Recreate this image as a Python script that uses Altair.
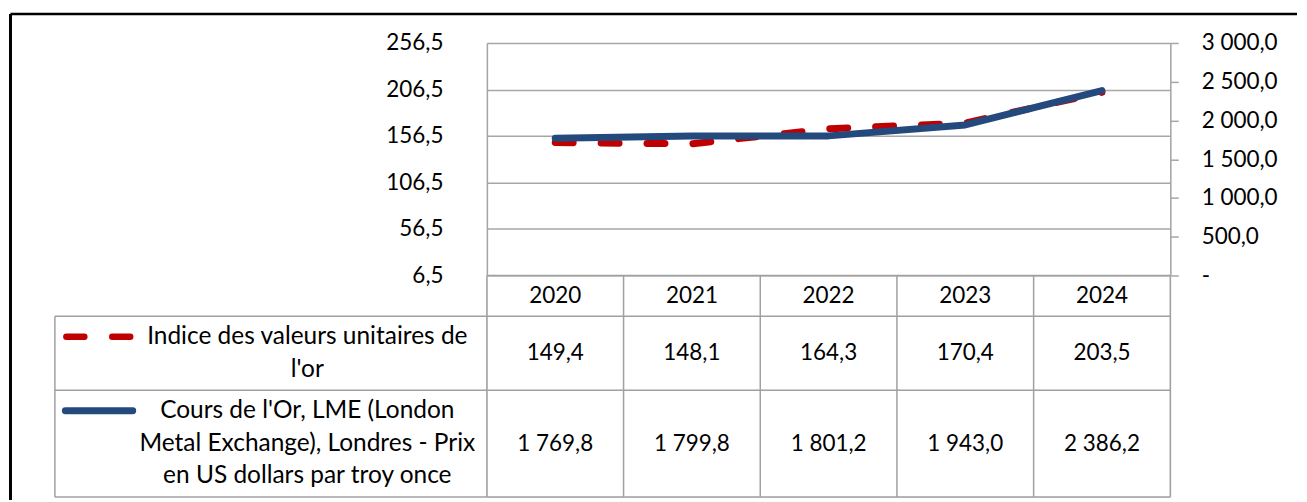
import altair as alt
import pandas as pd

# ---------------- data ----------------
years = ["2020", "2021", "2022", "2023", "2024"]
indice = [149.4, 148.1, 164.3, 170.4, 203.5]
cours = [1769.8, 1799.8, 1801.2, 1943.0, 2386.2]
series_labels = [
    "Indice des valeurs unitaires de\nl'or",
    "Cours de l'Or, LME (London\nMetal Exchange), Londres - Prix\nen US dollars par troy once",
]
series_lines = [2, 3]
left_ticks = [6.5, 56.5, 106.5, 156.5, 206.5, 256.5]
right_ticks = [0, 500, 1000, 1500, 2000, 2500, 3000]

# ---------------- style ----------------
RED = "#C00000"
BLUE = "#244A7D"
GRID = "#A6A6A6"
BORDER = "#A0A0A0"
FONT = "Lato"
FS = 22.5
FS_HEAD = 24.5
PLOT_W = 685
PLOT_H = 233
NCOL = len(years)
COL_W = PLOT_W / NCOL
HEADER_W = 433          # width of the series-name column (px)
KEY_START, KEY_END = 11.5, 78   # legend key inside header column (px from its left)
LABEL_CENTER = 253      # centre of series name text (px from header left)
LINE_H = 33
ROW_PAD = 8


def u(px_from_header_left):
    """convert px measured from header left into column units"""
    return (px_from_header_left - HEADER_W) / COL_W


def fr(v):
    return f"{v:,.1f}".replace(",", " ").replace(".", ",")


# ---------------- top panel: lines ----------------
df = pd.DataFrame({
    "Année": years,
    "pos": [i + 0.5 for i in range(NCOL)],
    "Indice": indice,
    "Cours": cours,
})
xq = alt.X("pos:Q", scale=alt.Scale(domain=[0, NCOL], nice=False, zero=False), axis=None)

red = alt.Chart(df).mark_line(
    color=RED, strokeWidth=7, strokeDash=[18, 28], strokeCap="round", strokeJoin="round"
).encode(
    x=xq,
    y=alt.Y(
        "Indice:Q",
        scale=alt.Scale(domain=[6.5, 256.5], nice=False, zero=False),
        axis=alt.Axis(
            orient="left", values=left_ticks,
            labelExpr="replace(format(datum.value, '.1f'), '.', ',')",
            labelFont=FONT, labelFontSize=FS, labelColor="#000000",
            ticks=False, domain=True, domainColor=GRID, domainWidth=1.5,
            grid=True, gridColor=GRID, gridWidth=1.5,
            labelPadding=44, title=None,
        ),
    ),
)

blue = alt.Chart(df).mark_line(
    color=BLUE, strokeWidth=7, strokeCap="round", strokeJoin="round"
).encode(
    x=xq,
    y=alt.Y(
        "Cours:Q",
        scale=alt.Scale(domain=[0, 3000], nice=False),
        axis=alt.Axis(
            orient="right", values=right_ticks,
            labelExpr="datum.value == 0 ? '-' : replace(replace(format(datum.value, ',.1f'), ',', ' '), '.', ',')",
            labelFont=FONT, labelFontSize=FS, labelColor="#000000",
            ticks=True, tickSize=8, tickColor=GRID, tickWidth=1.5,
            domain=True, domainColor=GRID, domainWidth=1.5,
            grid=False, labelPadding=23, title=None,
        ),
    ),
)

dummy = pd.DataFrame({"k": [0]})
frame_left = alt.Chart(dummy).mark_rule(color="#000000", strokeWidth=3).encode(
    x=alt.value(-477.5), y=alt.value(-29), y2=alt.value(458)
)
frame_top = alt.Chart(dummy).mark_rule(color="#000000", strokeWidth=2.5).encode(
    x=alt.value(-477.5), x2=alt.value(812), y=alt.value(-29)
)

top = alt.layer(red, blue, frame_left, frame_top).resolve_scale(y="independent").properties(
    width=PLOT_W, height=PLOT_H
)

# ---------------- bottom panel: data table ----------------
row_lines = [1] + series_lines
row_h = [ROW_PAD + LINE_H * n for n in row_lines]
row_top = [sum(row_h[:i]) for i in range(len(row_h))]
row_bot = [row_top[i] + row_h[i] for i in range(len(row_h))]
row_mid = [(row_top[i] + row_bot[i]) / 2 for i in range(len(row_h))]
first_line = [row_top[i] + ROW_PAD / 2 + LINE_H / 2 for i in range(len(row_h))]
TABLE_H = row_bot[-1]

cells = []
for i, yr in enumerate(years):
    cells.append({"x": i + 0.5, "y": row_mid[0], "t": yr})
    cells.append({"x": i + 0.5, "y": row_mid[1], "t": fr(indice[i])})
    cells.append({"x": i + 0.5, "y": row_mid[2], "t": fr(cours[i])})
cells = pd.DataFrame(cells)

headers = pd.DataFrame({
    "x": [u(LABEL_CENTER)] * 2,
    "y": [first_line[1], first_line[2]],
    "t": series_labels,
})

keys_red = pd.DataFrame({"x": [u(KEY_START)], "x2": [u(KEY_END - 1)], "y": [first_line[1]]})
keys_blue = pd.DataFrame({"x": [u(KEY_START - 1)], "x2": [u(KEY_END)], "y": [first_line[2]]})

hl = pd.DataFrame({
    "y": [0, row_bot[0], row_bot[1], row_bot[2]],
    "x": [0, u(0), u(0), u(0)],
    "x2": [NCOL] * 4,
})
vl = pd.DataFrame({
    "x": [u(0)] + list(range(NCOL + 1)),
    "y": [row_bot[0]] + [0] * (NCOL + 1),
    "y2": [TABLE_H] * (NCOL + 2),
})

xs = alt.Scale(domain=[0, NCOL], nice=False, zero=False)
ys = alt.Scale(domain=[0, TABLE_H], nice=False, zero=False, reverse=True)

hrules = alt.Chart(hl).mark_rule(color=BORDER, strokeWidth=1.5).encode(
    x=alt.X("x:Q", scale=xs, axis=None), x2="x2:Q",
    y=alt.Y("y:Q", scale=ys, axis=None),
)
vrules = alt.Chart(vl).mark_rule(color=BORDER, strokeWidth=1.5).encode(
    x=alt.X("x:Q", scale=xs, axis=None),
    y=alt.Y("y:Q", scale=ys, axis=None), y2="y2:Q",
)
cell_text = alt.Chart(cells).mark_text(
    font=FONT, fontSize=FS, color="#000000", align="center", baseline="middle"
).encode(
    x=alt.X("x:Q", scale=xs, axis=None),
    y=alt.Y("y:Q", scale=ys, axis=None),
    text="t:N",
)
head_text = alt.Chart(headers).mark_text(
    font=FONT, fontSize=FS_HEAD, color="#000000", align="center", baseline="middle",
    lineBreak="\n", lineHeight=LINE_H,
).encode(
    x=alt.X("x:Q", scale=xs, axis=None),
    y=alt.Y("y:Q", scale=ys, axis=None),
    text="t:N",
)
key_red = alt.Chart(keys_red).mark_rule(
    color=RED, strokeWidth=6.5, strokeDash=[18, 28], strokeCap="round"
).encode(
    x=alt.X("x:Q", scale=xs, axis=None), x2="x2:Q",
    y=alt.Y("y:Q", scale=ys, axis=None),
)
key_blue = alt.Chart(keys_blue).mark_rule(
    color=BLUE, strokeWidth=7, strokeCap="round"
).encode(
    x=alt.X("x:Q", scale=xs, axis=None), x2="x2:Q",
    y=alt.Y("y:Q", scale=ys, axis=None),
)

bottom = alt.layer(hrules, vrules, cell_text, head_text, key_red, key_blue).properties(
    width=PLOT_W, height=TABLE_H
)

chart = alt.vconcat(top, bottom, spacing=0, bounds="flush").properties(
    padding={"left": 0, "top": 3.5, "right": 0, "bottom": 0}
).configure_view(
    stroke="transparent"
).configure(background="white")

chart.save("out.html", embed_options={"renderer": "svg", "actions": False})
